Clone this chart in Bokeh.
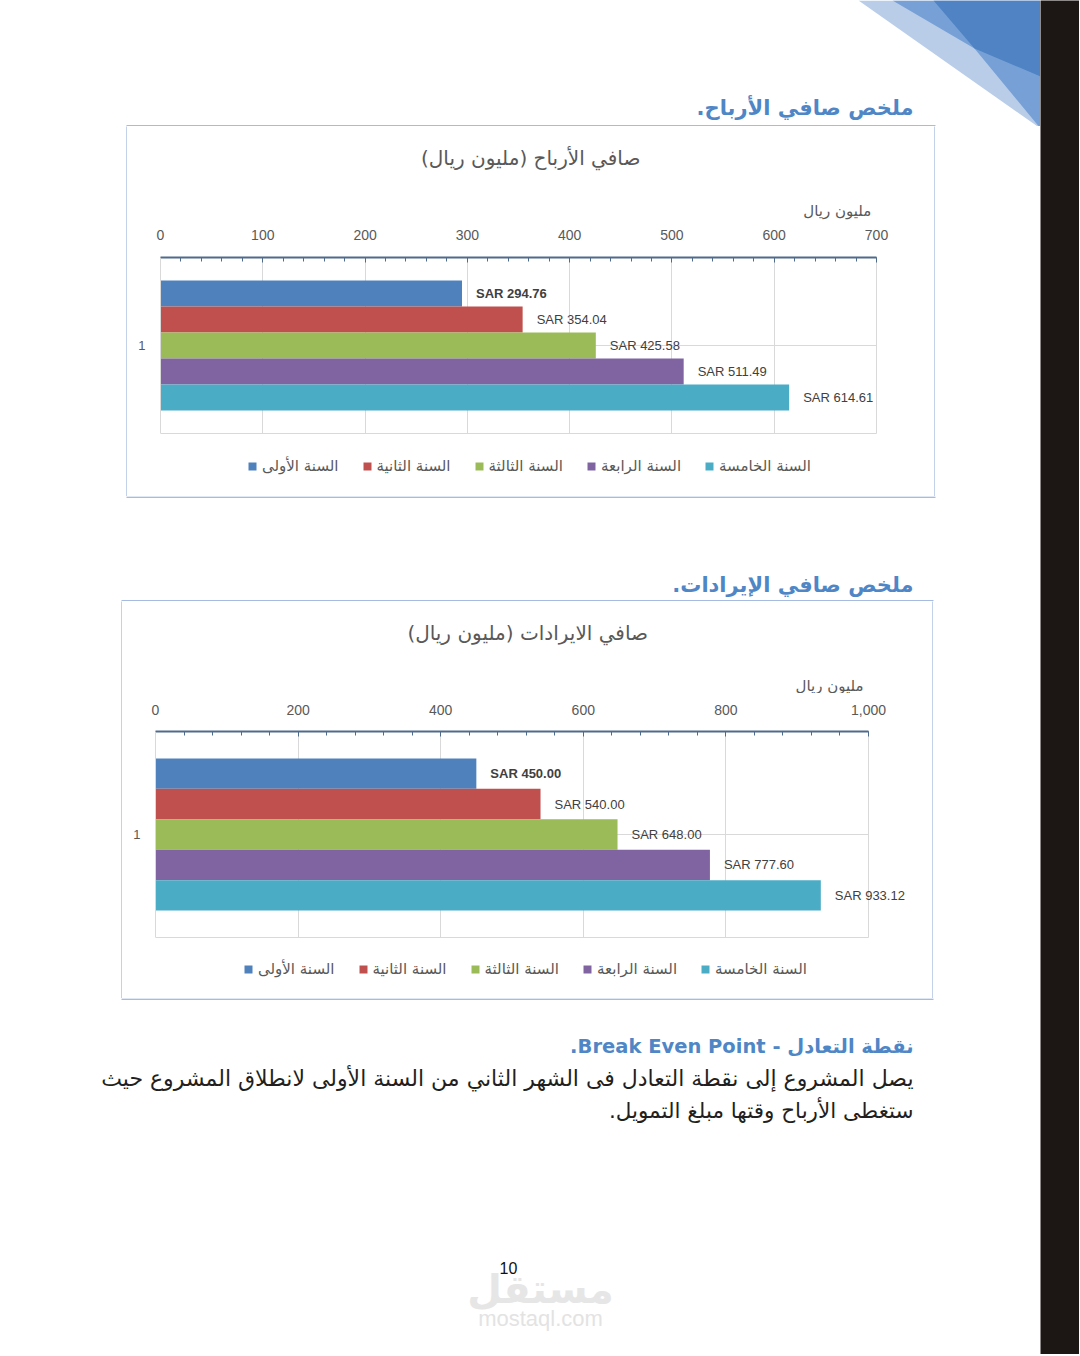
from bokeh.plotting import figure
from bokeh.layouts import row, column
from bokeh.models import (Range1d, FixedTicker, SingleIntervalTicker, NumeralTickFormatter,
                          Legend, LegendItem, LabelSet, ColumnDataSource, Spacer)
from bokeh.core.properties import value
from bokeh.embed import file_html
from bokeh.resources import INLINE

# ---------------- data ----------------
series_names = ["السنة الأولى", "السنة الثانية", "السنة الثالثة", "السنة الرابعة", "السنة الخامسة"]
category_label = "1"
profit_values = [294.76, 354.04, 425.58, 511.49, 614.61]
revenue_values = [450.00, 540.00, 648.00, 777.60, 933.12]
series_colors = ["#4f81bd", "#c0504d", "#9bbb59", "#8064a2", "#4bacc6"]
profit_tick_step = 100
profit_max = 700
revenue_tick_step = 200
revenue_max = 1000

RLM = "\u200F"
AR_FONT = "DejaVu Sans"
NUM_FONT = "Liberation Sans"
HEAD_COLOR = "#4f86c6"
GRID = "#d9d9d9"
TXT = "#595959"
BOX = "#87a5d6"
AXIS = "#4e6b8c"
PAGE_W = 1040


def plain_fig(w, h, color):
    p = figure(width=w, height=h, x_range=Range1d(0, 1), y_range=Range1d(0, 1),
               output_backend="svg", toolbar_location=None, min_border=0,
               x_axis_type=None, y_axis_type=None)
    p.outline_line_color = None
    p.background_fill_color = color
    p.border_fill_color = color
    return p


def deco_fig(x0, x1, y0, y1):
    p = figure(width=x1 - x0, height=y1 - y0, x_range=Range1d(x0, x1),
               y_range=Range1d(y1, y0), output_backend="svg", toolbar_location=None,
               min_border=0, x_axis_type=None, y_axis_type=None)
    p.outline_line_color = None
    p.background_fill_color = "white"
    p.border_fill_color = "white"
    return p


def txt(p, x, y, s, size, color, align="right", style="normal", font=AR_FONT):
    p.text(x=[x], y=[y], text=[s], text_align=align, text_baseline="middle",
           text_font=value(font), text_font_size=size, text_color=color,
           text_font_style=style)


def hline(p, x0, x1, y):
    p.segment(x0=[x0], x1=[x1], y0=[y], y1=[y], line_color=BOX, line_width=1.2)


def make_chart(vals, title, unit, xmax, step, comma, box, plot_area, header_bottom,
               title_pos, unit_pos, legend_pos, standoff):
    bx0, by0, bx1, by1 = box
    ix0, ix1 = bx0 + 1, bx1 - 1
    fx0, fy0, fx1, fy1 = plot_area          # pixel extent of the plotting area
    iw = ix1 - ix0

    # header strip with chart title and unit caption
    head = deco_fig(ix0, ix1, by0, header_bottom)
    txt(head, title_pos[0], title_pos[1], title + RLM, "20px", TXT, align="center")
    txt(head, unit_pos[0], unit_pos[1], unit + RLM, "15px", TXT, align="right")

    # chart: frame runs from plot-area left/top to the box right/bottom
    ppx = (fx1 - fx0) / xmax
    ppy = (fy1 - fy0)
    x_end = (ix1 - fx0) / ppx
    y_start = -0.5 - (by1 - fy1) / ppy
    p = figure(width=iw, height=by1 - header_bottom,
               x_range=Range1d(0, x_end), y_range=Range1d(y_start, 0.5),
               x_axis_location="above", output_backend="svg", toolbar_location=None,
               min_border_left=fx0 - ix0, min_border_right=0,
               min_border_top=fy0 - header_bottom, min_border_bottom=0)
    p.title.visible = False
    p.background_fill_color = "white"
    p.border_fill_color = "white"
    p.outline_line_color = None

    n = len(vals)
    h = 0.1477
    pos = [((n - 1) / 2 - i) * h for i in range(n)]
    items = []
    for i in range(n):
        src = ColumnDataSource(dict(y=[pos[i]], right=[vals[i]]))
        r = p.hbar(y="y", left=0, right="right", height=h, source=src,
                   fill_color=series_colors[i], line_color=None)
        items.append(LegendItem(label=series_names[i], renderers=[r]))

    labels = ["SAR {:,.2f}".format(v) for v in vals]
    src_b = ColumnDataSource(dict(x=vals[:1], y=pos[:1], t=labels[:1]))
    src_n = ColumnDataSource(dict(x=vals[1:], y=pos[1:], t=labels[1:]))
    for s, style in ((src_b, "bold"), (src_n, "normal")):
        p.add_layout(LabelSet(x="x", y="y", text="t", source=s, x_offset=14,
                              text_baseline="middle", text_align="left",
                              text_font=value(NUM_FONT), text_font_size="13px",
                              text_font_style=style, text_color="#404040"))

    ax = p.xaxis[0]
    ax.ticker = SingleIntervalTicker(interval=step, num_minor_ticks=5)
    ax.bounds = (0, xmax)
    if comma:
        ax.formatter = NumeralTickFormatter(format="0,0")
    ax.axis_line_color = AXIS
    ax.axis_line_width = 2
    ax.major_tick_in = 5
    ax.major_tick_out = 0
    ax.minor_tick_in = 4
    ax.minor_tick_out = 0
    ax.major_tick_line_color = AXIS
    ax.minor_tick_line_color = AXIS
    ax.major_label_standoff = standoff
    ax.major_label_text_font = NUM_FONT
    ax.major_label_text_font_size = "14px"
    ax.major_label_text_color = TXT

    ay = p.yaxis[0]
    ay.ticker = FixedTicker(ticks=[0])
    ay.bounds = (-0.5, 0.5)
    ay.major_label_overrides = {0: category_label}
    ay.axis_line_color = GRID
    ay.major_tick_in = 0
    ay.major_tick_out = 0
    ay.minor_tick_line_color = None
    ay.major_label_standoff = 15
    ay.major_label_text_font = NUM_FONT
    ay.major_label_text_font_size = "13px"
    ay.major_label_text_color = TXT

    p.xgrid.grid_line_color = GRID
    p.xgrid.bounds = (0, xmax)
    p.xgrid.cross_bounds = (-0.5, 0.5)
    p.ygrid.grid_line_color = GRID
    p.ygrid.ticker = FixedTicker(ticks=[-0.5, 0, 0.5])
    p.ygrid.bounds = (-0.51, 0.51)
    p.ygrid.cross_bounds = (0, xmax)

    leg = Legend(items=items, orientation="horizontal",
                 location=(legend_pos[0] - fx0, by1 - legend_pos[1] - 10),
                 glyph_width=10, glyph_height=10, label_standoff=5, spacing=23,
                 padding=0, margin=0, border_line_color=None,
                 background_fill_alpha=0, label_text_font=AR_FONT,
                 label_text_font_size="15px", label_text_color=TXT)
    p.add_layout(leg, "center")

    bh = by1 - by0
    inner = column(head, p)
    return row(Spacer(width=bx0, height=bh), plain_fig(1, bh, BOX), inner,
               plain_fig(1, bh, BOX), Spacer(width=PAGE_W - bx1, height=bh))


BOX1 = (126, 126, 935, 496)
BOX2 = (121, 601, 933, 998)

# ---- top section ----
top = deco_fig(0, PAGE_W, 0, BOX1[1])
top.patches(xs=[[858, 1040, 1040], [892, 1040, 1040, 974], [933, 1040, 1040, 974]],
            ys=[[0, 0, 128], [0, 0, 128, 48], [0, 0, 76, 48]],
            fill_color=["#b9cde9", "#77a1d6", "#4f83c3"], line_color=None)
txt(top, 913, 107, "ملخص صافي الأرباح." + RLM, "21px", HEAD_COLOR, style="bold")
hline(top, BOX1[0], BOX1[2], BOX1[1] - 0.6)

chart1 = make_chart(profit_values, "صافي الأرباح (مليون ريال)", "مليون ريال",
                    profit_max, profit_tick_step, False,
                    BOX1, (160, 257, 876, 433), 220,
                    (513, 157), (868, 210), (247, 465), 18)

mid = deco_fig(0, PAGE_W, BOX1[3], BOX2[1])
txt(mid, 913, 584, "ملخص صافي الإيرادات." + RLM, "21px", HEAD_COLOR, style="bold")
hline(mid, BOX1[0], BOX1[2], BOX1[3] + 0.6)
hline(mid, BOX2[0], BOX2[2], BOX2[1] - 0.6)

chart2 = make_chart(revenue_values, "صافي الايرادات (مليون ريال)", "مليون ريال",
                    revenue_max, revenue_tick_step, True,
                    BOX2, (155, 731, 868, 937), 693,
                    (510, 632), (860, 685), (243, 968), 17)

bottom = deco_fig(0, PAGE_W, BOX2[3], 1354)
hline(bottom, BOX2[0], BOX2[2], BOX2[3] + 0.6)
txt(bottom, 913, 1046, "\u202Bنقطة التعادل - Break Even Point.\u202C", "19.5px",
    HEAD_COLOR, style="bold")
txt(bottom, 913, 1078,
    "يصل المشروع إلى نقطة التعادل فى الشهر الثاني من السنة الأولى لانطلاق المشروع حيث",
    "22px", "#231f20")
txt(bottom, 913, 1110, "ستغطى الأرباح وقتها مبلغ التمويل." + RLM, "21.5px", "#231f20")
txt(bottom, 540, 1288, "مستقل", "40px", "#e6e6e6", align="center", style="bold")
txt(bottom, 540, 1318, "mostaql.com", "22px", "#e3e3e3", align="center", font="Liberation Sans")
txt(bottom, 508, 1267, "10", "16px", "#111111", align="center", font="Liberation Sans")

content = column(top, chart1, mid, chart2, bottom)
black = plain_fig(39, 1354, "#1c1614")

page = row(content, black)
open("out.html", "w").write(file_html(page, INLINE))
